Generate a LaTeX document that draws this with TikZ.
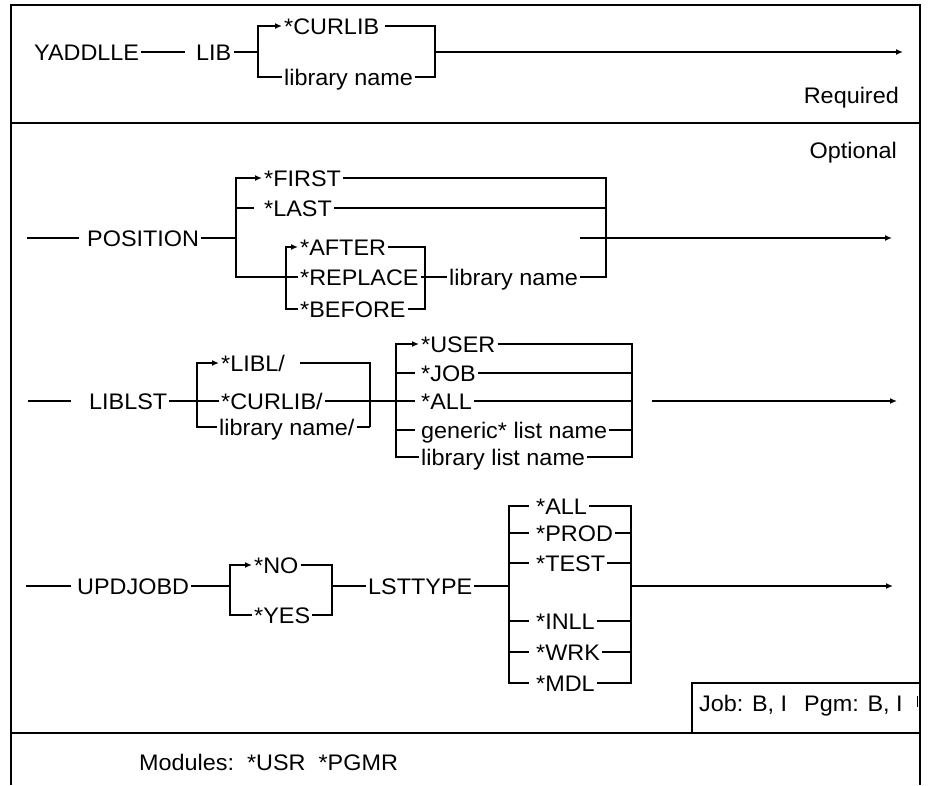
\documentclass[tikz,border=0pt]{standalone}
\usepackage{fontspec}
\setmainfont{Liberation Sans}[FakeStretch=1.04]
\usetikzlibrary{arrows.meta}
\tikzset{
  lbl/.style={anchor=west,inner xsep=1.5pt,inner ysep=0pt,text height=16pt,text depth=0pt,font=\fontsize{22.5}{27}\selectfont},
  rail/.style={line width=1.4pt},
  heavy/.style={line width=2.2pt},
  tip/.style={-{Latex[length=7pt,width=6pt]}},
  frame/.style={line width=1.8pt}
}
\begin{document}
\begin{tikzpicture}[x=1pt,y=-1pt,rail]
\useasboundingbox (0,0) rectangle (928,785);
% frame
\draw[frame] (11,785) -- (11,5) -- (920,5) -- (920,785);
\draw[frame] (11,123) -- (920,123);
\draw[frame] (11,733) -- (920,733);
\draw (692,733) -- (692,683) -- (920,683);
\node (req) at (901,95) [lbl,anchor=east] {Required};
\node (opt) at (899,150) [lbl,anchor=east] {Optional};
% required
\node (yaddlle) at (32,52) [lbl] {YADDLLE};
\node (lib) at (194,52) [lbl] {LIB};
\node (curlib) at (282,26) [lbl] {*CURLIB};
\node (libname) at (282,77) [lbl] {library name};
\coordinate (libj) at (258,52);
\coordinate (libk) at (435,52);
\coordinate (libend) at (903,52);
\draw (yaddlle.east) -- ([xshift=-9pt]lib.west);
\draw (lib.east) -- (libj);
\draw[tip] (libj) |- (curlib.west);
\draw (libj) |- (libname.west);
\draw ([xshift=4pt]curlib.east) -| (libk);
\draw (libname.east) -| (libk);
\draw[tip] (libk) -- (libend);
% position
\node (position) at (85,238) [lbl] {POSITION};
\node (first) at (262,178) [lbl] {*FIRST};
\node (last) at (262,208) [lbl] {*LAST};
\node (after) at (298,247) [lbl] {*AFTER};
\node (replace) at (298,277) [lbl] {*REPLACE};
\node (before) at (298,309) [lbl] {*BEFORE};
\node (posname) at (447,277) [lbl] {library name};
\coordinate (posin) at (27,238);
\coordinate (posj) at (236,238);
\coordinate (subj) at (286,277);
\coordinate (subk) at (425,277);
\coordinate (posk) at (606,238);
\coordinate (posx) at (580,238);
\coordinate (posend) at (892,238);
\draw (posin) -- ([xshift=-6pt]position.west);
\draw (position.east) -- (posj);
\draw[tip] (posj) |- (first.west);
\draw (posj) |- ([xshift=-8pt]last.west);
\draw (posj) |- (subj);
\draw[tip] (subj) |- (after.west);
\draw (subj) -- (replace.west);
\draw (subj) |- (before.west);
\draw (after.east) -| (subk);
\draw (before.east) -| (subk);
\draw (replace.east) -- (subk) -- (posname.west);
\draw (first.east) -| (posk);
\draw[heavy] (last.east) -- (last.east -| posk);
\draw (posname.east) -| (posk);
\draw[tip] (posx) -- (posend);
% liblst
\node (liblst) at (87,401) [lbl] {LIBLST};
\node (libl) at (219,363) [lbl] {*LIBL/};
\node (curlibs) at (219,401) [lbl] {*CURLIB/};
\node (libnames) at (217,427) [lbl] {library name/};
\node (user) at (419,344) [lbl] {*USER};
\node (job) at (419,373) [lbl] {*JOB};
\node (allx) at (419,401) [lbl] {*ALL};
\node (generic) at (419,430) [lbl] {generic* list name};
\node (liblist) at (419,457) [lbl] {library list name};
\coordinate (lstin) at (28,401);
\coordinate (lstj) at (197,401);
\coordinate (lstk) at (370,427);
\coordinate (qualj) at (396,401);
\coordinate (qualk) at (632,401);
\coordinate (lstx) at (652,401);
\coordinate (lstend) at (897,401);
\draw (lstin) -- ([xshift=-16pt]liblst.west);
\draw (liblst.east) -- (lstj) -- (curlibs.west);
\draw[tip] (lstj) |- (libl.west);
\draw (lstj) |- (libnames.west);
\draw ([xshift=13pt]libl.east) -| (lstk);
\draw (libnames.east) -- (lstk);
\draw (curlibs.east) -- (qualj);
\draw[tip] (qualj) |- (user.west);
\draw (qualj) |- ([xshift=-4pt]job.west);
\draw (qualj) -- ([xshift=-4pt]allx.west);
\draw (qualj) |- ([xshift=-4pt]generic.west);
\draw (qualj) |- (liblist.west);
\draw (user.east) -| (qualk);
\draw[heavy] (job.east) -- (job.east -| qualk);
\draw (allx.east) -- (qualk);
\draw (generic.east) -| (qualk);
\draw (liblist.east) -| (qualk);
\draw[tip] (lstx) -- (lstend);
% updjobd
\node (updjobd) at (75,586) [lbl] {UPDJOBD};
\node (no) at (252,565) [lbl] {*NO};
\node (yes) at (252,615) [lbl] {*YES};
\node (lsttype) at (366,586) [lbl] {LSTTYPE};
\node (allt) at (534,506) [lbl] {*ALL};
\node (prod) at (534,533) [lbl] {*PROD};
\node (test) at (534,563) [lbl] {*TEST};
\node (inll) at (534,621) [lbl] {*INLL};
\node (wrk) at (534,652) [lbl] {*WRK};
\node (mdl) at (534,683) [lbl] {*MDL};
\coordinate (updin) at (26,586);
\coordinate (updj) at (230,586);
\coordinate (updk) at (332,586);
\coordinate (typj) at (509,586);
\coordinate (typk) at (631,586);
\coordinate (typend) at (893,586);
\draw (updin) -- ([xshift=-4pt]updjobd.west);
\draw (updjobd.east) -- (updj);
\draw[tip] (updj) |- (no.west);
\draw (updj) |- (yes.west);
\draw (no.east) -| (updk);
\draw (yes.east) -| (updk);
\draw (updk) -- (lsttype.west);
\draw (lsttype.east) -- (typj);
\draw (typj) |- ([xshift=-5pt]allt.west);
\draw (typj) |- ([xshift=-5pt]prod.west);
\draw (typj) |- ([xshift=-5pt]test.west);
\draw (typj) |- ([xshift=-5pt]inll.west);
\draw (typj) |- ([xshift=-5pt]wrk.west);
\draw (typj) |- ([xshift=-5pt]mdl.west);
\draw (allt.east) -| (typk);
\draw (prod.east) -| (typk);
\draw (test.east) -| (typk);
\draw (inll.east) -| (typk);
\draw (wrk.east) -| (typk);
\draw (mdl.east) -| (typk);
\draw[tip] (typk) -- (typend);
% footer
\node (jobpgm) at (697,703) [lbl] {Job: B, I\hspace{17pt}Pgm: B, I};
\coordinate (ticktop) at (917,696);
\coordinate (tickbot) at (917,707);
\draw[line width=1pt] (ticktop) -- (tickbot);
\node (modules) at (137,762) [lbl] {Modules:\hspace{13pt}*USR\hspace{13pt}*PGMR};
\end{tikzpicture}
\end{document}
